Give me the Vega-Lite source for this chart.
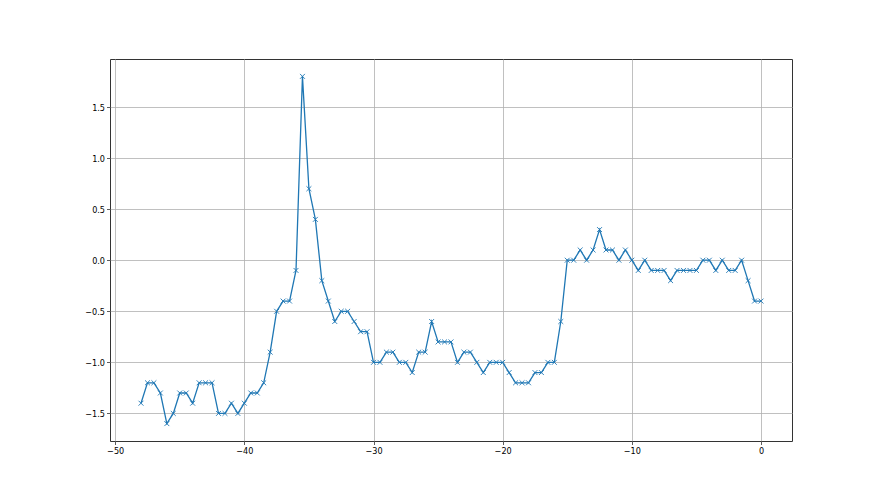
{
  "$schema": "https://vega.github.io/schema/vega-lite/v6.json",
  "width": 682,
  "height": 382,
  "autosize": {"type": "none"},
  "padding": {"left": 110, "top": 59, "right": 88, "bottom": 54},
  "background": "white",
  "config": {
    "view": {"stroke": "#333333", "strokeWidth": 1},
    "axis": {
      "labelFont": "DejaVu Sans Condensed",
      "labelFontSize": 9,
      "labelColor": "#000000",
      "tickColor": "#333333",
      "tickSize": 3.5,
      "tickWidth": 0.8,
      "domain": false,
      "gridColor": "#b0b0b0",
      "gridWidth": 0.8,
      "title": null,
      "labelPadding": 2
    }
  },
  "data": {
    "values": [
      {"x": -48, "y": -1.4}, {"x": -47.5, "y": -1.2}, {"x": -47, "y": -1.2}, {"x": -46.5, "y": -1.3},
      {"x": -46, "y": -1.6}, {"x": -45.5, "y": -1.5}, {"x": -45, "y": -1.3}, {"x": -44.5, "y": -1.3},
      {"x": -44, "y": -1.4}, {"x": -43.5, "y": -1.2}, {"x": -43, "y": -1.2}, {"x": -42.5, "y": -1.2},
      {"x": -42, "y": -1.5}, {"x": -41.5, "y": -1.5}, {"x": -41, "y": -1.4}, {"x": -40.5, "y": -1.5},
      {"x": -40, "y": -1.4}, {"x": -39.5, "y": -1.3}, {"x": -39, "y": -1.3}, {"x": -38.5, "y": -1.2},
      {"x": -38, "y": -0.9}, {"x": -37.5, "y": -0.5}, {"x": -37, "y": -0.4}, {"x": -36.5, "y": -0.4},
      {"x": -36, "y": -0.1}, {"x": -35.5, "y": 1.8}, {"x": -35, "y": 0.7}, {"x": -34.5, "y": 0.4},
      {"x": -34, "y": -0.2}, {"x": -33.5, "y": -0.4}, {"x": -33, "y": -0.6}, {"x": -32.5, "y": -0.5},
      {"x": -32, "y": -0.5}, {"x": -31.5, "y": -0.6}, {"x": -31, "y": -0.7}, {"x": -30.5, "y": -0.7},
      {"x": -30, "y": -1.0}, {"x": -29.5, "y": -1.0}, {"x": -29, "y": -0.9}, {"x": -28.5, "y": -0.9},
      {"x": -28, "y": -1.0}, {"x": -27.5, "y": -1.0}, {"x": -27, "y": -1.1}, {"x": -26.5, "y": -0.9},
      {"x": -26, "y": -0.9}, {"x": -25.5, "y": -0.6}, {"x": -25, "y": -0.8}, {"x": -24.5, "y": -0.8},
      {"x": -24, "y": -0.8}, {"x": -23.5, "y": -1.0}, {"x": -23, "y": -0.9}, {"x": -22.5, "y": -0.9},
      {"x": -22, "y": -1.0}, {"x": -21.5, "y": -1.1}, {"x": -21, "y": -1.0}, {"x": -20.5, "y": -1.0},
      {"x": -20, "y": -1.0}, {"x": -19.5, "y": -1.1}, {"x": -19, "y": -1.2}, {"x": -18.5, "y": -1.2},
      {"x": -18, "y": -1.2}, {"x": -17.5, "y": -1.1}, {"x": -17, "y": -1.1}, {"x": -16.5, "y": -1.0},
      {"x": -16, "y": -1.0}, {"x": -15.5, "y": -0.6}, {"x": -15, "y": 0.0}, {"x": -14.5, "y": 0.0},
      {"x": -14, "y": 0.1}, {"x": -13.5, "y": 0.0}, {"x": -13, "y": 0.1}, {"x": -12.5, "y": 0.3},
      {"x": -12, "y": 0.1}, {"x": -11.5, "y": 0.1}, {"x": -11, "y": 0.0}, {"x": -10.5, "y": 0.1},
      {"x": -10, "y": 0.0}, {"x": -9.5, "y": -0.1}, {"x": -9, "y": 0.0}, {"x": -8.5, "y": -0.1},
      {"x": -8, "y": -0.1}, {"x": -7.5, "y": -0.1}, {"x": -7, "y": -0.2}, {"x": -6.5, "y": -0.1},
      {"x": -6, "y": -0.1}, {"x": -5.5, "y": -0.1}, {"x": -5, "y": -0.1}, {"x": -4.5, "y": 0.0},
      {"x": -4, "y": 0.0}, {"x": -3.5, "y": -0.1}, {"x": -3, "y": 0.0}, {"x": -2.5, "y": -0.1},
      {"x": -2, "y": -0.1}, {"x": -1.5, "y": 0.0}, {"x": -1, "y": -0.2}, {"x": -0.5, "y": -0.4},
      {"x": 0, "y": -0.4}
    ]
  },
  "encoding": {
    "x": {
      "field": "x", "type": "quantitative",
      "scale": {"domain": [-50.4, 2.4], "nice": false, "zero": false},
      "axis": {"values": [-50, -40, -30, -20, -10, 0], "labelExpr": "replace(format(datum.value, 'd'), '-', '−')"}
    },
    "y": {
      "field": "y", "type": "quantitative",
      "scale": {"domain": [-1.77, 1.97], "nice": false, "zero": false},
      "axis": {"values": [-1.5, -1.0, -0.5, 0.0, 0.5, 1.0, 1.5], "labelExpr": "replace(format(datum.value, '.1f'), '-', '−')"}
    }
  },
  "layer": [
    {"mark": {"type": "line", "color": "#1f77b4", "strokeWidth": 1.3, "clip": true}},
    {"mark": {"type": "point", "shape": "M-1,-1L1,1M-1,1L1,-1", "filled": false, "color": "#1f77b4", "strokeWidth": 0.9, "size": 24, "opacity": 1}}
  ]
}
